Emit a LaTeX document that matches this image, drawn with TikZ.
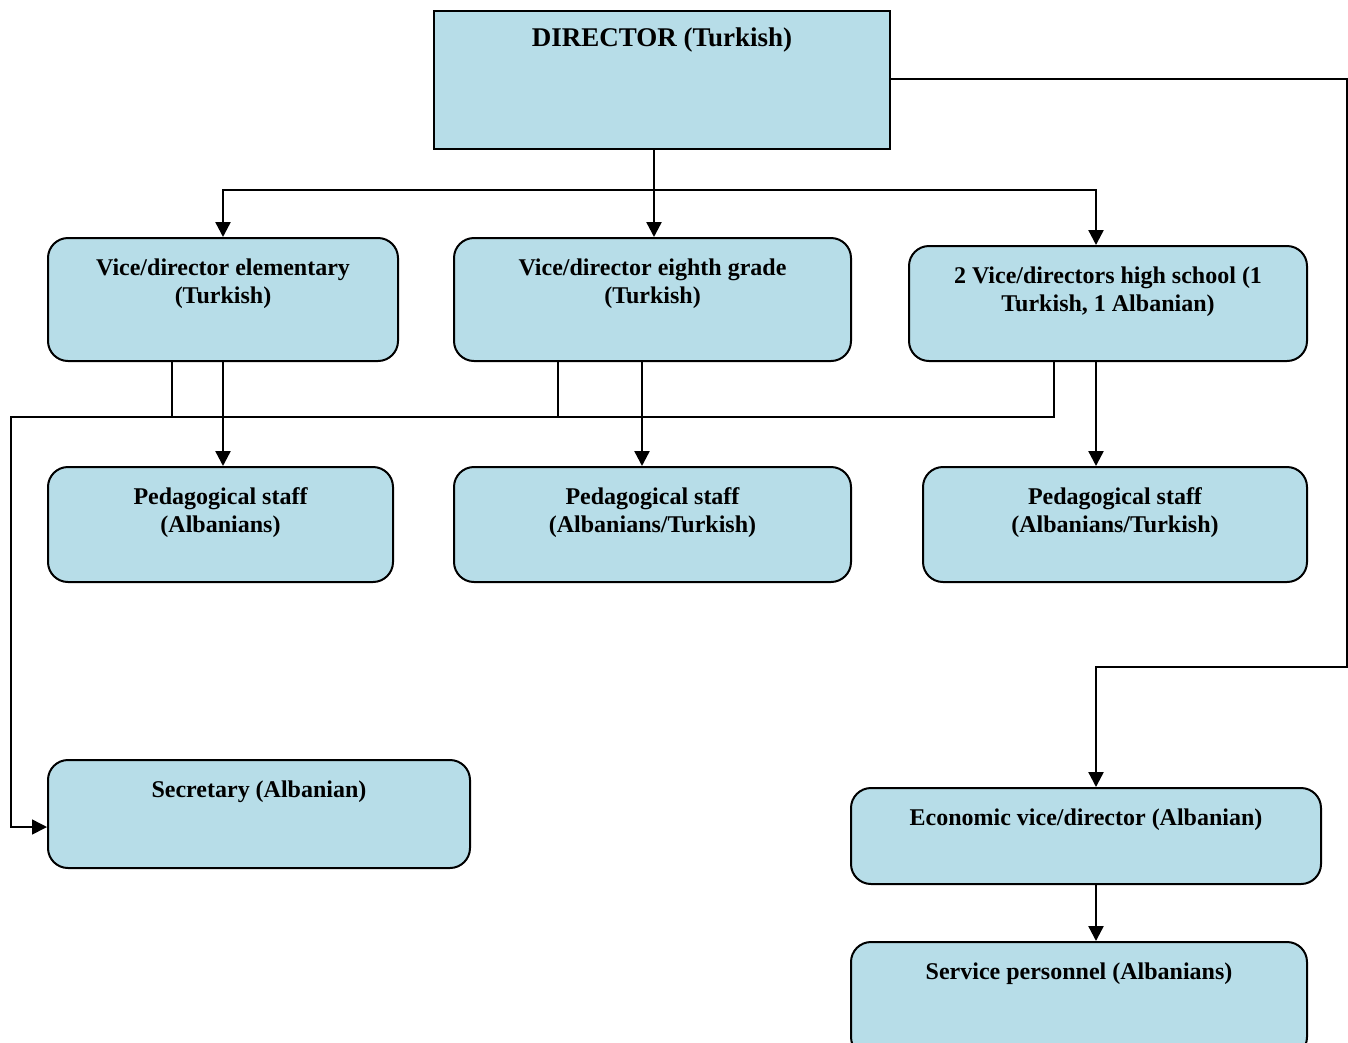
\documentclass[tikz,border=0pt]{standalone}
\usepackage{fontspec}
\setmainfont{Liberation Serif}
\usetikzlibrary{arrows.meta,calc}
\definecolor{boxfill}{HTML}{B7DDE8}
\begin{document}
\begin{tikzpicture}[x=1pt,y=-1pt,
  box/.style={draw=black, line width=2pt, fill=boxfill, rounded corners=20pt, anchor=north west, inner sep=0pt},
  sqbox/.style={draw=black, line width=2pt, fill=boxfill, anchor=north west, inner sep=0pt},
  txt/.style={anchor=north, inner sep=0pt, align=center, font=\fontsize{24}{28}\selectfont\bfseries},
  bigtxt/.style={anchor=north, inner sep=0pt, align=center, font=\fontsize{27}{30}\selectfont\bfseries},
  arr/.style={line width=2.4pt, -{Triangle[length=15pt,width=15pt]}},
  thin/.style={line width=1.6pt},
  thinarr/.style={line width=1.6pt, -{Triangle[length=15pt,width=15pt]}}
]
\useasboundingbox (0,0) rectangle (1348,1042);
% boxes
\node[sqbox, minimum width=456pt, minimum height=138pt] (dir) at (433,10) {};
\node[box, minimum width=350pt, minimum height=123pt] (vde) at (47,237) {};
\node[box, minimum width=397pt, minimum height=123pt] (vd8) at (453,237) {};
\node[box, minimum width=398pt, minimum height=115pt] (vdh) at (908,245) {};
\node[box, minimum width=345pt, minimum height=115pt] (ps1) at (47,466) {};
\node[box, minimum width=397pt, minimum height=115pt] (ps2) at (453,466) {};
\node[box, minimum width=384pt, minimum height=115pt] (ps3) at (922,466) {};
\node[box, minimum width=422pt, minimum height=108pt] (sec) at (47,759) {};
\node[box, minimum width=470pt, minimum height=96pt] (eco) at (850,787) {};
\node[box, minimum width=456pt, minimum height=115pt] (svc) at (850,941) {};
% texts
\node[bigtxt] (dirt) at ($(dir.north)+(0,15)$) {\strut DIRECTOR (Turkish)};
\node[txt] (vdet) at ($(vde.north)+(0,18.4)$) {\strut Vice/director elementary\\(Turkish)};
\node[txt] (vd8t) at ($(vd8.north)+(0,18.4)$) {\strut Vice/director eighth grade\\(Turkish)};
\node[txt] (vdht) at ($(vdh.north)+(0,18.4)$) {\strut 2 Vice/directors high school (1\\Turkish, 1 Albanian)};
\node[txt] (ps1t) at ($(ps1.north)+(0,18.4)$) {\strut Pedagogical staff\\(Albanians)};
\node[txt] (ps2t) at ($(ps2.north)+(0,18.4)$) {\strut Pedagogical staff\\(Albanians/Turkish)};
\node[txt] (ps3t) at ($(ps3.north)+(0,18.4)$) {\strut Pedagogical staff\\(Albanians/Turkish)};
\node[txt] (sect) at ($(sec.north)+(0,18.4)$) {\strut Secretary (Albanian)};
\node[txt] (ecot) at ($(eco.north)+(0,18.4)$) {\strut Economic vice/director (Albanian)};
\node[txt] (svct) at ($(svc.north)+(0,18.4)$) {\strut Service personnel (Albanians)};
% helper coordinates
\coordinate (j1) at (654,190);
\coordinate (xh) at (1096,0);
\coordinate (x8) at (642,0);
\coordinate (bus) at (11,417);
\coordinate (rt) at (1347,667);
% director to vice directors
\draw[line width=2pt] (dir.south -| j1) -- (j1);
\draw[arr] (j1) -| (vde.north);
\draw[arr] (j1) -- (vd8.north -| j1);
\draw[arr] (j1) -| (vdh.north -| xh);
% vice directors to pedagogical staff
\draw[arr] (vde.south) -- (vde.south |- ps1.north);
\draw[arr] (vd8.south -| x8) -- (ps2.north -| x8);
\draw[arr] (vdh.south -| xh) -- (ps3.north -| xh);
% thin lines to secretary
\draw[thin] (vde.south -| 172,0) -- (172,417);
\draw[thin] (vd8.south -| 558,0) -- (558,417);
\draw[thinarr] (vdh.south -| 1054,0) -- (1054,417) -- (bus) -- (11,827) -- (sec.west |- 0,827);
% director to economic
\draw[line width=2pt] (dir.east |- 0,79) -- (1347,79) -- (rt) -- (1096,667) -- (1096,700);
\draw[arr] (1096,667) -- (eco.north -| xh);
\draw[arr] (eco.south -| xh) -- (svc.north -| xh);
\end{tikzpicture}
\end{document}
